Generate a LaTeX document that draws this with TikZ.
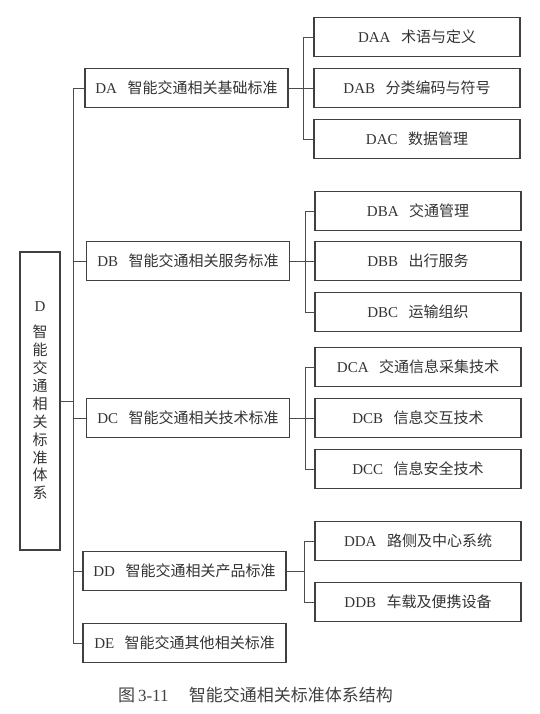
\documentclass[tikz,border=0pt]{standalone}
\usepackage{fontspec}
\setmainfont{Liberation Serif}
\newfontfamily\cjk{Noto Sans CJK SC}
\newcommand{\lab}[2]{#1\hspace{0.7em}{\cjk #2}}
\begin{document}
\begin{tikzpicture}[x=1pt,y=1pt,
    lvlone/.style ={draw=black!75, line width=1.1pt, minimum width=203pt, minimum height=39pt, inner sep=0pt, text=black!80, font=\fontsize{15}{18}\selectfont},
    lvltwo/.style ={lvlone, minimum width=206pt},
    rootbox/.style ={draw=black!75, line width=1.1pt, minimum width=40pt, minimum height=298pt, inner sep=0pt, align=center, text=black!80, font=\fontsize{15}{17.9}\selectfont\cjk},
    link/.style ={draw=black!70, line width=0.8pt}]
   \useasboundingbox (0,0) rectangle (539,-714);
   % root
   \node[rootbox] (D) at (40,-401) {\textrm{D}\\[8pt]智\\能\\交\\通\\相\\关\\标\\准\\体\\系};
   % first level
   \node[lvlone] (DA) at (186.5,-88)  {\lab{DA}{智能交通相关基础标准}};
   \node[lvlone] (DB) at (188,-261)   {\lab{DB}{智能交通相关服务标准}};
   \node[lvlone] (DC) at (188,-418)   {\lab{DC}{智能交通相关技术标准}};
   \node[lvlone] (DD) at (184.5,-571) {\lab{DD}{智能交通相关产品标准}};
   \node[lvlone] (DE) at (184.5,-643) {\lab{DE}{智能交通其他相关标准}};
   % second level
   \node[lvltwo] (DAA) at (417,-37)  {\lab{DAA}{术语与定义}};
   \node[lvltwo] (DAB) at (417,-88)  {\lab{DAB}{分类编码与符号}};
   \node[lvltwo] (DAC) at (417,-139) {\lab{DAC}{数据管理}};
   \node[lvltwo] (DBA) at (418,-211) {\lab{DBA}{交通管理}};
   \node[lvltwo] (DBB) at (418,-261) {\lab{DBB}{出行服务}};
   \node[lvltwo] (DBC) at (418,-312) {\lab{DBC}{运输组织}};
   \node[lvltwo] (DCA) at (418,-367) {\lab{DCA}{交通信息采集技术}};
   \node[lvltwo] (DCB) at (418,-418) {\lab{DCB}{信息交互技术}};
   \node[lvltwo] (DCC) at (418,-469) {\lab{DCC}{信息安全技术}};
   \node[lvltwo] (DDA) at (418,-541) {\lab{DDA}{路侧及中心系统}};
   \node[lvltwo] (DDB) at (418,-602) {\lab{DDB}{车载及便携设备}};
   % caption
   \node[anchor=west, inner sep=0pt, text=black!75, font=\fontsize{17}{19}\selectfont] (cap) at (118,-695)
      {{\cjk 图}\,3-11\hspace{1.2em}{\cjk 智能交通相关标准体系结构}};
   % links
   \draw[link] (D.east) -- ++(13,0) coordinate (t);
   \draw[link] (DA.west) -- (DA.west -| t) -- (DE.west -| t) -- (DE.west);
   \foreach \n in {DB,DC,DD}
      \draw[link] (\n.west) -- (\n.west -| t);
   \foreach \p/\a/\b/\c in {DA/DAA/DAB/DAC, DB/DBA/DBB/DBC, DC/DCA/DCB/DCC} {
      \draw[link] (\p.east) -- ++(15,0) coordinate (s);
      \draw[link] (\a.west) -- (\a.west -| s) -- (\c.west -| s) -- (\c.west);
      \draw[link] (\b.west) -- (s);
   }
   \draw[link] (DD.east) -- ++(18,0) coordinate (s);
   \draw[link] (DDA.west) -- (DDA.west -| s) -- (DDB.west -| s) -- (DDB.west);
\end{tikzpicture}
\end{document}
